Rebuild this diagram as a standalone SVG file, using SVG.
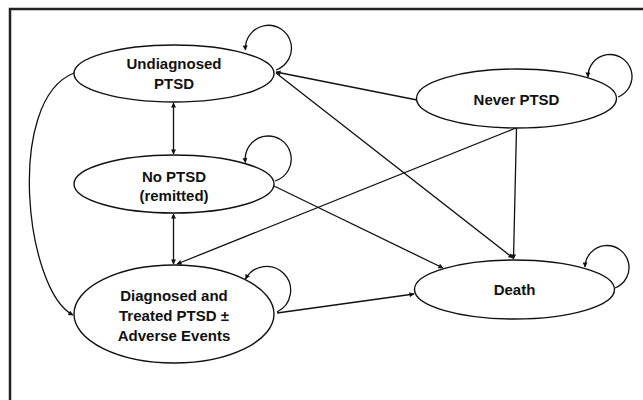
<svg xmlns="http://www.w3.org/2000/svg" width="643" height="400" viewBox="0 0 643 400">
<style>
.node ellipse{fill:#fff;stroke:#111;stroke-width:1.4}
.node text{font-family:"Liberation Sans",Arial,sans-serif;font-weight:bold;font-size:15px;fill:#111;text-anchor:middle}
.edges path{fill:none;stroke:#111;stroke-width:1.3}
</style>
<defs>
<marker id="ah" viewBox="0 0 10 10" refX="9" refY="5" markerWidth="6" markerHeight="5" markerUnits="userSpaceOnUse" orient="auto-start-reverse">
<path d="M0,0 L10,5 L0,10 z" fill="#111"/>
</marker>
</defs>
<rect x="10" y="9" width="650" height="420" fill="#fff" stroke="#222" stroke-width="2.5"/>
<g class="edges">
<path d="M173.5,103 L173.5,154" marker-start="url(#ah)" marker-end="url(#ah)"/>
<path d="M173.5,214 L173.5,264" marker-start="url(#ah)" marker-end="url(#ah)"/>
<path d="M74,73 C5,100 25,290 73,315" marker-end="url(#ah)"/>
<path d="M417,100 L276,72" marker-end="url(#ah)"/>
<path d="M276,73 L513,258" marker-end="url(#ah)"/>
<path d="M516.5,128 L513.5,259" marker-end="url(#ah)"/>
<path d="M516,128 L177,264" marker-end="url(#ah)"/>
<path d="M274,186 L443,268" marker-end="url(#ah)"/>
<path d="M277,313 L414,294" marker-end="url(#ah)"/>
<path d="M276,70 A23,23 0 1 0 245.5,50" marker-end="url(#ah)"/>
<path d="M275,181 A23,23 0 1 0 245.5,162.5" marker-end="url(#ah)"/>
<path d="M277,312 A24,24 0 1 0 245.5,279" marker-end="url(#ah)"/>
<path d="M618,97 A22,22 0 1 0 588,77" marker-end="url(#ah)"/>
<path d="M615,288 A22,22 0 1 0 585,267" marker-end="url(#ah)"/>
</g>
<g id="undiagnosed" class="node">
<ellipse cx="174" cy="73.5" rx="100" ry="28.5"/>
<text x="174" y="69">Undiagnosed</text>
<text x="174" y="88.5">PTSD</text>
</g>
<g id="no-ptsd" class="node">
<ellipse cx="174" cy="184" rx="100" ry="29"/>
<text x="174" y="181.5">No PTSD</text>
<text x="174" y="200.5">(remitted)</text>
</g>
<g id="diagnosed" class="node">
<ellipse cx="174" cy="314" rx="100" ry="49"/>
<text x="174" y="300.5">Diagnosed and</text>
<text x="174" y="320.5">Treated PTSD ±</text>
<text x="174" y="340.5">Adverse Events</text>
</g>
<g id="never-ptsd" class="node">
<ellipse cx="516.5" cy="98.5" rx="100" ry="29.5"/>
<text x="516.5" y="105">Never PTSD</text>
</g>
<g id="death" class="node">
<ellipse cx="514.5" cy="289.5" rx="100" ry="29.5"/>
<text x="514.5" y="295">Death</text>
</g>
</svg>
